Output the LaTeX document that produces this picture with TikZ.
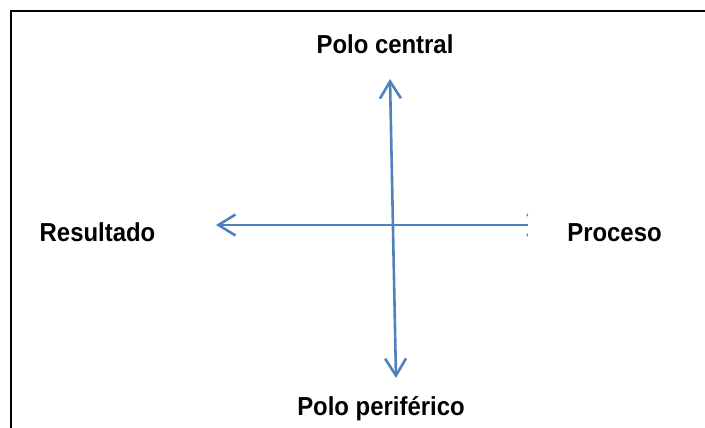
\documentclass[tikz,border=0pt]{standalone}
\usepackage{fontspec}
\setmainfont{Liberation Sans}
\newfontfamily\lblfont[FakeStretch=0.92]{Liberation Sans}
\usetikzlibrary{arrows.meta}
\definecolor{axisblue}{RGB}{79,129,189}
\tikzset{
  axis/.style={draw=axisblue, line width=2.6pt,
    {Straight Barb[length=17pt,width=21pt]}-{Straight Barb[length=17pt,width=21pt]}},
  lbl/.style={font=\lblfont\fontsize{26}{30}\selectfont\bfseries, inner sep=0pt, anchor=base},
  frameline/.style={draw=black, line width=2pt}
}
\begin{document}
\begin{tikzpicture}[x=1pt,y=-1pt]
\useasboundingbox (0,0) rectangle (705,428);
% frame (top and left edges only)
\coordinate (fa) at (11,428);
\coordinate (fb) at (11,11);
\coordinate (fc) at (705,11);
\draw[frameline] (fa) -- (fb) -- (fc);
% axis end points
\coordinate (ctop) at (390,79);
\coordinate (cbot) at (396,378);
\coordinate (cleft) at (216,225);
\coordinate (cright) at (546.5,225);
\draw[axis] (cbot) -- (ctop);
\draw[axis] (cright) -- (cleft);
% labels
\node[lbl] (central) at (385,54) {Polo central};
\node[lbl] (result) at (97.5,241) {Resultado};
\node[lbl, fill=white, minimum width=174pt, inner ysep=9pt] (proc) at (614.5,241) {Proceso};
\node[lbl] (perif) at (381,415) {Polo periférico};
\end{tikzpicture}
\end{document}
